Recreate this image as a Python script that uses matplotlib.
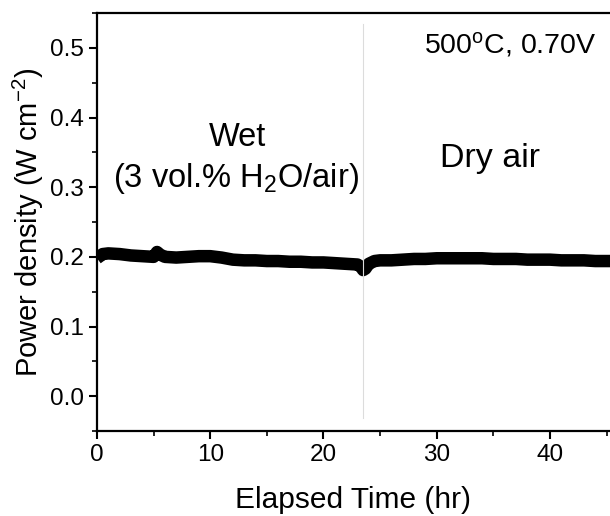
import matplotlib
matplotlib.use('Agg')
import matplotlib.pyplot as plt

plt.rcParams['font.family'] = ['Liberation Sans', 'DejaVu Sans']
plt.rcParams['mathtext.fontset'] = 'custom'
plt.rcParams['mathtext.rm'] = 'Liberation Sans'
plt.rcParams['mathtext.it'] = 'Liberation Sans'

# elapsed time (hr) and power density (W cm^-2)
time_hr = [0, 0.5, 1, 2, 3, 4, 5, 5.3, 5.6, 6, 7, 8, 9, 10, 11, 12, 13, 14, 15,
           16, 17, 18, 19, 20, 21, 22, 23, 23.3, 23.5, 23.7, 24, 24.5, 25, 26,
           27, 28, 29, 30, 31, 32, 33, 34, 35, 36, 37, 38, 39, 40, 41, 42, 43,
           44, 45.3]
power = [0.198, 0.204, 0.205, 0.204, 0.202, 0.201, 0.200, 0.207, 0.203, 0.200,
         0.199, 0.200, 0.201, 0.201, 0.199, 0.196, 0.195, 0.195, 0.194, 0.194,
         0.193, 0.193, 0.192, 0.192, 0.191, 0.190, 0.189, 0.186, 0.181, 0.183,
         0.190, 0.194, 0.195, 0.195, 0.196, 0.197, 0.197, 0.198, 0.198, 0.198,
         0.198, 0.198, 0.197, 0.197, 0.197, 0.196, 0.196, 0.196, 0.195, 0.195,
         0.195, 0.194, 0.194]
switch_hr = 23.5

fig = plt.figure(figsize=(6.10, 5.16), dpi=100)
ax = fig.add_axes([0.159, 0.1647, 0.841, 0.81])

ax.plot(time_hr, power, color='black', lw=9, solid_capstyle='butt')
ax.axvline(switch_hr, ymin=0.03, ymax=0.975, color='#dcdcdc', lw=0.8)

ax.set_xlim(0, 45.3)
ax.set_ylim(-0.05, 0.55)
ax.set_xticks([0, 10, 20, 30, 40])
ax.set_xticks([5, 15, 25, 35, 45], minor=True)
ax.set_yticks([0.0, 0.1, 0.2, 0.3, 0.4, 0.5])
ax.set_yticks([-0.05, 0.05, 0.15, 0.25, 0.35, 0.45, 0.55], minor=True)
ax.set_yticklabels(['0.0', '0.1', '0.2', '0.3', '0.4', '0.5'])

for s in ax.spines.values():
    s.set_linewidth(1.6)
ax.spines['right'].set_visible(False)
ax.tick_params(which='major', direction='out', length=6, width=1.5, labelsize=17.5)
ax.tick_params(which='minor', direction='out', length=3.5, width=1.2)

ax.set_xlabel('Elapsed Time (hr)', fontsize=21.5, labelpad=14)
ax.set_ylabel('Power density (W cm$^{-2}$)', fontsize=21, labelpad=3)

ax.text(12.4, 0.372, 'Wet', fontsize=23.5, ha='center', va='center')
ax.text(12.3, 0.313, '(3 vol.% H$_2$O/air)', fontsize=23.5, ha='center', va='center')
ax.text(34.7, 0.341, 'Dry air', fontsize=24.5, ha='center', va='center')
ax.text(28.9, 0.505, '500$^\\mathrm{o}$C, 0.70V', fontsize=20.5, ha='left', va='center')

fig.savefig('out.png', dpi=100)
